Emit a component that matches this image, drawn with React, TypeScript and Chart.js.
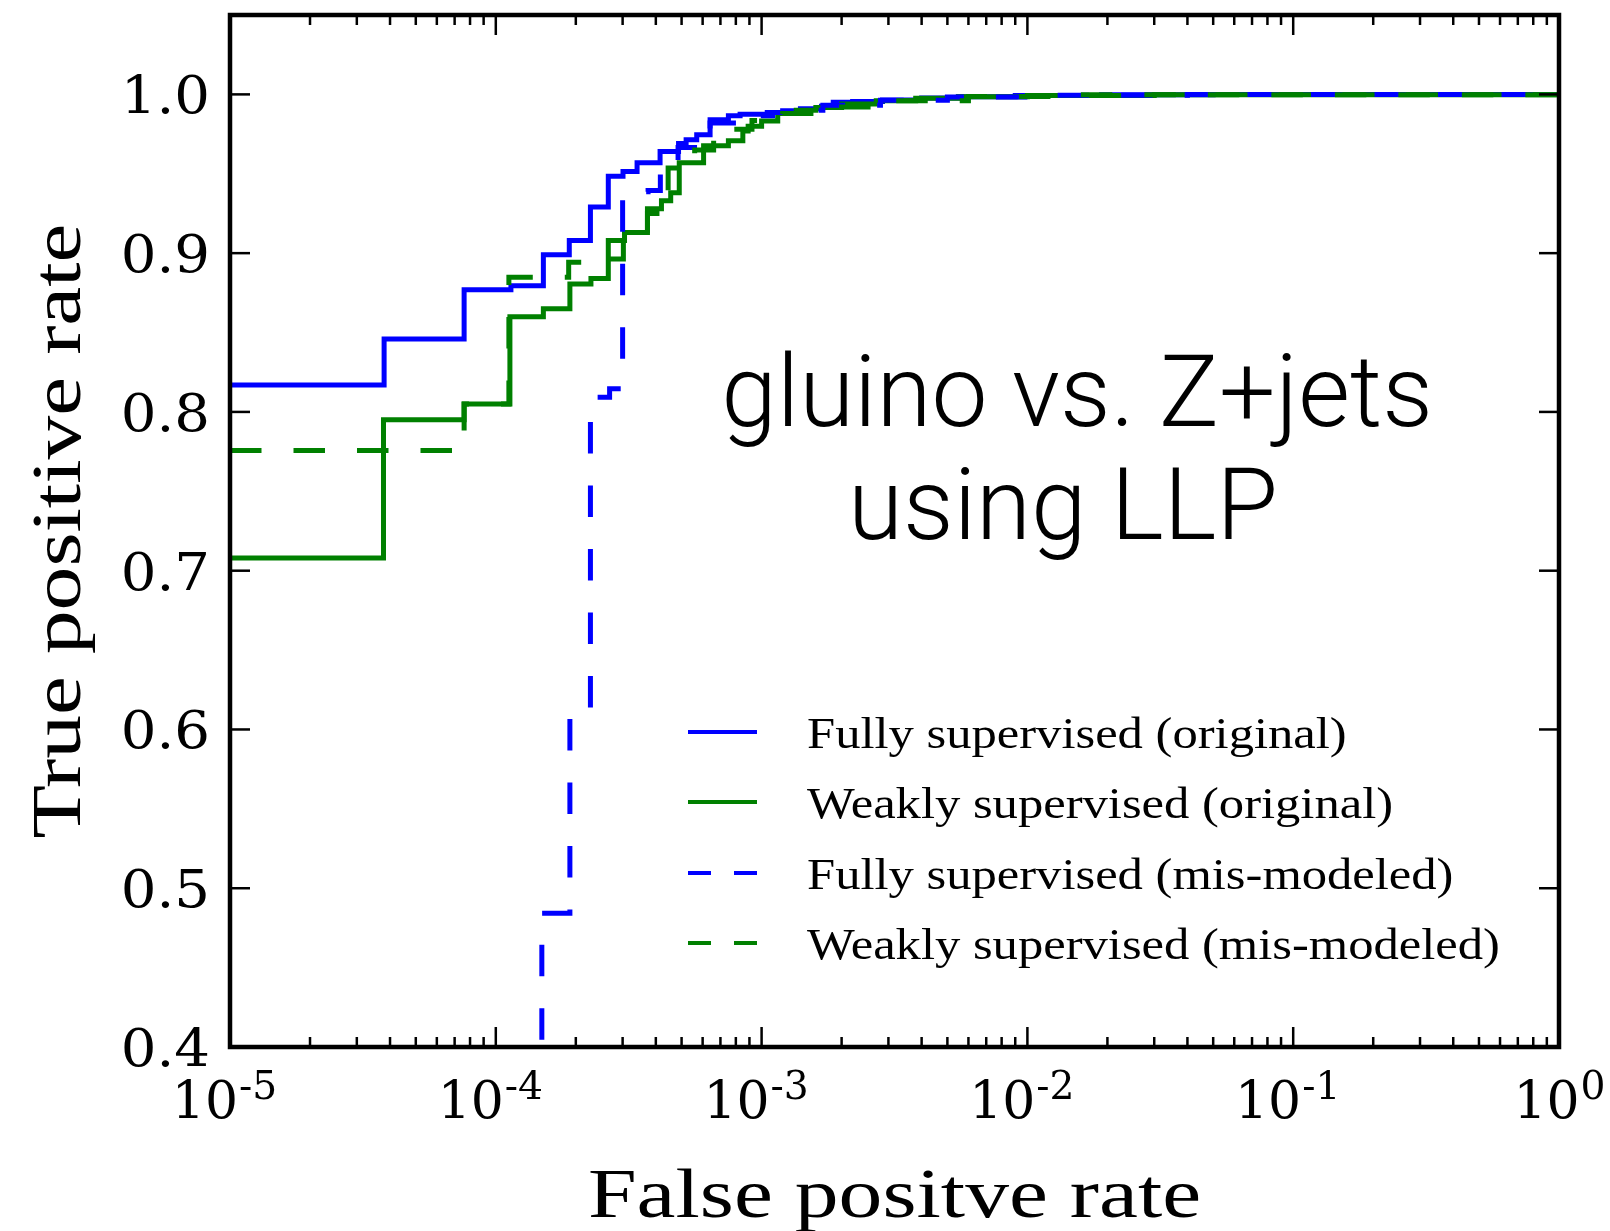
import React, { useEffect, useRef } from "react";
import { Chart, registerables } from "chart.js";

Chart.register(...registerables);

const WIDTH = 1610;
const HEIGHT = 1231;

// ROC curves: false positive rate (x) and true positive rate (y) at each step
const fullyOriginalFpr = [1e-5, 3.8e-5, 7.6e-5, 1.14e-4, 1.51e-4, 1.89e-4, 2.27e-4, 2.65e-4, 3.01e-4, 3.4e-4, 4.15e-4, 4.87e-4, 5.2e-4, 5.7e-4, 6.4e-4, 7.5e-4, 8.3e-4, 1.05e-3, 1.2e-3, 1.4e-3, 1.68e-3, 1.86e-3, 2.2e-3, 2.85e-3, 4e-3, 5.5e-3, 9e-3, 1.9e-2, 5e-2, 1];
const fullyOriginalTpr = [0.817, 0.846, 0.877, 0.8795, 0.899, 0.908, 0.929, 0.9485, 0.9515, 0.957, 0.964, 0.969, 0.9714, 0.9746, 0.984, 0.9865, 0.9875, 0.9886, 0.9897, 0.991, 0.9925, 0.995, 0.9955, 0.9964, 0.9977, 0.9985, 0.9993, 0.9997, 0.9999, 1.0];

const weaklyOriginalFpr = [1e-5, 3.78e-5, 7.6e-5, 1.13e-4, 1.51e-4, 1.9e-4, 2.28e-4, 2.65e-4, 3.05e-4, 3.72e-4, 4.2e-4, 4.55e-4, 4.9e-4, 6.05e-4, 7.5e-4, 8.5e-4, 8.9e-4, 1.0e-3, 1.15e-3, 1.35e-3, 1.6e-3, 2.0e-3, 2.7e-3, 3.8e-3, 5.5e-3, 1e-2, 3e-2, 1];
const weaklyOriginalTpr = [0.708, 0.795, 0.805, 0.86, 0.865, 0.8805, 0.884, 0.908, 0.913, 0.928, 0.933, 0.938, 0.957, 0.9677, 0.9708, 0.977, 0.98, 0.9833, 0.988, 0.99, 0.9918, 0.994, 0.996, 0.9975, 0.9985, 0.9993, 0.9998, 1.0];

// the first point sits below the visible range; the curve rises into view at 1.49e-4
const fullyMisFpr = [1.49e-4, 1.49e-4, 1.9e-4, 2.27e-4, 2.68e-4, 3.0e-4, 3.74e-4, 4.16e-4, 4.85e-4, 6.4e-4, 8.3e-4, 1.1e-3, 1.25e-3, 1.7e-3, 2.8e-3, 5e-3, 1.2e-2, 4e-2, 1];
const fullyMisTpr = [0.3645, 0.4843, 0.607, 0.8093, 0.8146, 0.9387, 0.9395, 0.9525, 0.9665, 0.982, 0.9865, 0.9886, 0.99, 0.9932, 0.9963, 0.9984, 0.9995, 0.9999, 1.0];

const weaklyMisFpr = [1e-5, 7.6e-5, 1.12e-4, 1.88e-4, 2.65e-4, 3.02e-4, 3.72e-4, 4.45e-4, 5.6e-4, 6.6e-4, 7.2e-4, 9.2e-4, 1.2e-3, 1.7e-3, 2.8e-3, 6e-3, 1.5e-2, 1];
const weaklyMisTpr = [0.7757, 0.805, 0.8848, 0.8943, 0.8963, 0.912, 0.925, 0.9536, 0.965, 0.9745, 0.978, 0.9835, 0.988, 0.992, 0.996, 0.9987, 0.9997, 1.0];

const seriesLabels = [
  "Fully supervised (original)",
  "Weakly supervised (original)",
  "Fully supervised (mis-modeled)",
  "Weakly supervised (mis-modeled)",
];

const yTickValues = [0.4, 0.5, 0.6, 0.7, 0.8, 0.9, 1.0];
const xTickExponents = [-5, -4, -3, -2, -1, 0];
const xTitle = "False positve rate";
const yTitle = "True positive rate";
const annotationLines = ["gluino vs. Z+jets", "using LLP"];

const BLUE = "#0000ff";
const GREEN = "#008000";
const SERIF = "'Liberation Serif', 'Times New Roman', serif";
const TICK_SERIF = "'DejaVu Serif', serif";

const zip = (xs: number[], ys: number[]) => xs.map((x, i) => ({ x, y: ys[i] }));

// Draw text horizontally stretched by sx around the anchor
function stretchedText(
  ctx: CanvasRenderingContext2D,
  text: string,
  x: number,
  y: number,
  font: string,
  sx: number,
  align: CanvasTextAlign,
  rotate = 0
) {
  ctx.save();
  ctx.translate(x, y);
  if (rotate) ctx.rotate(rotate);
  ctx.scale(sx, 1);
  ctx.font = font;
  ctx.textAlign = align;
  ctx.textBaseline = "alphabetic";
  ctx.fillStyle = "#000";
  ctx.fillText(text, 0, 0);
  ctx.restore();
}

function measure(ctx: CanvasRenderingContext2D, text: string, font: string, sx: number) {
  ctx.save();
  ctx.font = font;
  const w = ctx.measureText(text).width * sx;
  ctx.restore();
  return w;
}

// Frame, inward ticks, tick labels, axis titles, legend and annotation
const framePlugin = {
  id: "frame",
  afterDatasetsDraw(chart: any) {
    const { ctx, chartArea: a, scales } = chart;
    const xs = scales.x;
    const ys = scales.y;
    ctx.save();

    const seg = (x1: number, y1: number, x2: number, y2: number) => {
      ctx.beginPath();
      ctx.moveTo(x1, y1);
      ctx.lineTo(x2, y2);
      ctx.stroke();
    };

    // tick marks pointing into the plot on all four sides
    ctx.strokeStyle = "#000";
    ctx.lineWidth = 2.5;
    ctx.lineCap = "butt";
    const majorLen = 20;
    const minorLen = 10;
    for (const e of xTickExponents) {
      for (let m = 1; m <= 9; m++) {
        const v = m * Math.pow(10, e);
        if (v > 1.0000001) break;
        const px = xs.getPixelForValue(v);
        const len = m === 1 ? majorLen : minorLen;
        seg(px, a.bottom, px, a.bottom - len);
        seg(px, a.top, px, a.top + len);
      }
    }
    for (const v of yTickValues) {
      const py = ys.getPixelForValue(v);
      seg(a.left, py, a.left + majorLen, py);
      seg(a.right, py, a.right - majorLen, py);
    }

    // axes frame
    ctx.lineWidth = 4.5;
    ctx.lineJoin = "miter";
    ctx.strokeRect(a.left, a.top, a.right - a.left, a.bottom - a.top);

    // y tick labels
    const yFont = `52px ${TICK_SERIF}`;
    for (const v of yTickValues) {
      const py = ys.getPixelForValue(v);
      stretchedText(ctx, v.toFixed(1), a.left - 20, py + 19, yFont, 1.08, "right");
    }

    // x tick labels: 10 with a raised exponent
    const baseFont = `53px ${TICK_SERIF}`;
    const supFont = `40px ${TICK_SERIF}`;
    const sxTick = 0.98;
    for (const e of xTickExponents) {
      const px = xs.getPixelForValue(Math.pow(10, e));
      const sup = e === 0 ? "0" : `-${-e}`;
      const wb = measure(ctx, "10", baseFont, sxTick);
      const wsup = measure(ctx, sup, supFont, sxTick);
      const left = px - (wb + wsup) / 2 - (e < 0 ? 6 : 0);
      stretchedText(ctx, "10", left, a.bottom + 71, baseFont, sxTick, "left");
      stretchedText(ctx, sup, left + wb + 1, a.bottom + 52, supFont, sxTick, "left");
    }

    // axis titles
    const titleFont = `69px ${SERIF}`;
    stretchedText(ctx, xTitle, (a.left + a.right) / 2, 1217, titleFont, 1.27, "center");
    stretchedText(ctx, yTitle, 80, (a.top + a.bottom) / 2, titleFont, 1.27, "center", -Math.PI / 2);

    // legend
    const legendFont = `44px ${SERIF}`;
    const rowY = [732, 802, 873, 943];
    chart.data.datasets.forEach((ds: any, i: number) => {
      const y = rowY[i];
      ctx.save();
      ctx.strokeStyle = ds.borderColor;
      ctx.lineWidth = 4;
      ctx.lineCap = "butt";
      ctx.setLineDash(ds.borderDash && ds.borderDash.length ? [23, 23] : []);
      seg(688, y, 757, y);
      ctx.restore();
      stretchedText(ctx, ds.label, 807, y + 16, legendFont, 1.15, "left");
    });

    // annotation
    ctx.save();
    ctx.font = "300 100px Roboto, 'Open Sans', sans-serif";
    ctx.fillStyle = "#000";
    ctx.textAlign = "center";
    ctx.textBaseline = "alphabetic";
    ctx.fillText(annotationLines[0], 1077, 426);
    ctx.fillText(annotationLines[1], 1063, 539);
    ctx.restore();

    ctx.restore();
  },
};

export default function App() {
  const canvasRef = useRef<HTMLCanvasElement | null>(null);

  useEffect(() => {
    const canvas = canvasRef.current;
    if (!canvas) return;

    const lineStyle = {
      borderWidth: 5,
      pointRadius: 0,
      fill: false,
      stepped: "before" as const,
      borderCapStyle: "butt" as const,
      borderJoinStyle: "miter" as const,
    };

    const chart = new Chart(canvas, {
      type: "line",
      data: {
        datasets: [
          { ...lineStyle, label: seriesLabels[0], data: zip(fullyOriginalFpr, fullyOriginalTpr), borderColor: BLUE, borderDash: [], order: 3 },
          { ...lineStyle, label: seriesLabels[1], data: zip(weaklyOriginalFpr, weaklyOriginalTpr), borderColor: GREEN, borderDash: [], order: 2 },
          { ...lineStyle, label: seriesLabels[2], data: zip(fullyMisFpr, fullyMisTpr), borderColor: BLUE, borderDash: [31.5, 32], order: 1 },
          { ...lineStyle, label: seriesLabels[3], data: zip(weaklyMisFpr, weaklyMisTpr), borderColor: GREEN, borderDash: [31.5, 32], order: 0 },
        ],
      },
      options: {
        responsive: false,
        animation: false,
        devicePixelRatio: 1,
        layout: { padding: { top: 15, right: 51, left: 0, bottom: 0 } },
        plugins: {
          legend: { display: false },
          tooltip: { enabled: false },
        },
        scales: {
          x: {
            type: "logarithmic",
            min: 1e-5,
            max: 1,
            grid: { display: false },
            border: { display: false },
            ticks: { display: false },
            afterFit: (s: any) => {
              s.height = 184;
            },
          },
          y: {
            type: "linear",
            min: 0.4,
            max: 1.05,
            grid: { display: false },
            border: { display: false },
            ticks: { display: false },
            afterFit: (s: any) => {
              s.width = 230;
            },
          },
        },
      },
      plugins: [framePlugin],
    });

    return () => chart.destroy();
  }, []);

  return (
    <div style={{ position: "absolute", left: 0, top: 0, width: WIDTH, height: HEIGHT, background: "#fff" }}>
      <canvas ref={canvasRef} width={WIDTH} height={HEIGHT} style={{ width: WIDTH, height: HEIGHT, display: "block" }} />
    </div>
  );
}
